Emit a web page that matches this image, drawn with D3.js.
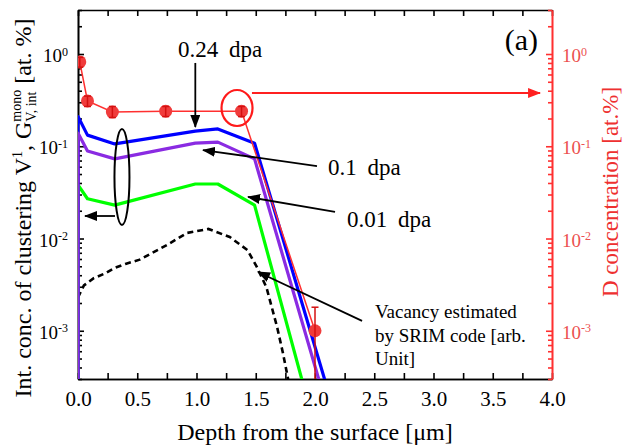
<!DOCTYPE html>
<meta charset="utf-8">
<script src="https://cdn.jsdelivr.net/npm/d3@7"></script>
<body style="margin:0">
<div id="my_dataviz"></div>
<script>
    // simulated interstitial cluster concentration (left axis)
    const simDepth = [0, 0, 0.08, 0.31, 0.99, 1.18, 1.49, 2.2];
    const conc024 = [1e-5, 0.21, 0.132, 0.106, 0.146, 0.154, 0.108, 9.1e-5];
    const conc01 = [1e-5, 0.139, 0.089, 0.073, 0.108, 0.111, 0.073, 5.4e-5];
    const conc001 = [1e-5, 0.038, 0.027, 0.023, 0.039, 0.039, 0.023, 1.0e-5];

    // SRIM vacancy profile [arb. unit]
    const srimDepth = [0, 0.05, 0.13, 0.23, 0.31, 0.4, 0.52, 0.75, 0.92, 1.1, 1.28, 1.43, 1.51, 1.59, 1.68, 1.73, 1.8];
    const srimConc = [2.3e-3, 3.1e-3, 3.7e-3, 4.2e-3, 4.8e-3, 5.3e-3, 5.9e-3, 8.5e-3, 0.0115, 0.0127, 0.0104, 7.5e-3, 4.9e-3, 2.96e-3, 1.1e-3, 5.7e-4, 2.0e-4];

    // measured D concentration (right axis)
    const dDepth = [0.015, 0.08, 0.29, 0.74, 1.38, 2.0];
    const dConc = [0.82, 0.31, 0.235, 0.24, 0.24, 1.0e-3];
    const dErrLow = [0.72, 0.27, 0.205, 0.21, 0.21, 1e-5];
    const dErrHigh = [0.92, 0.35, 0.27, 0.27, 0.27, 1.8e-3];

    const xTicks = [0, 0.5, 1, 1.5, 2, 2.5, 3, 3.5, 4];
    const yTicks = [1e-3, 1e-2, 1e-1, 1];
    const yExp = ["-3", "-2", "-1", "0"];

    const serif = "Liberation Serif";

    let margin = {top: 10, right: 71, bottom: 67, left: 78},
        width = 623 - margin.left - margin.right,
        height = 446 - margin.top - margin.bottom;

    let svg = d3.select("#my_dataviz").append("svg")
        .attr("width", 623)
        .attr("height", 446)
        .style("display", "block");

    let defs = svg.append("defs");
    defs.append("clipPath").attr("id", "clip")
        .append("rect").attr("width", width).attr("height", height);
    const arrowHead = (id, color) => defs.append("marker")
        .attr("id", id)
        .attr("markerUnits", "userSpaceOnUse")
        .attr("markerWidth", 13).attr("markerHeight", 10)
        .attr("refX", 12).attr("refY", 5)
        .attr("orient", "auto")
        .append("path").attr("d", "M0,0 L13,5 L0,10 z").attr("fill", color);
    arrowHead("ahBlack", "#000");
    arrowHead("ahRed", "#ff2020");

    let g = svg.append("g")
        .attr("transform", `translate(${margin.left},${margin.top})`);

    let x = d3.scaleLinear().domain([0, 4]).range([0, width]);
    let y = d3.scaleLog().domain([3e-4, 3]).range([height, 0]);

    const red = "#ff3030";
    const redText = "#ec5050";

    // minor log ticks
    let minor = [];
    [1e-4, 1e-3, 1e-2, 1e-1, 1].forEach(d => {
        for (let k = 2; k <= 9; k++) {
            let v = d * k;
            if (v >= 3e-4 && v <= 3) minor.push(v);
        }
    });
    let xMinor = d3.range(0.25, 4, 0.5);

    // axes
    let xAxis = g.append("g").attr("transform", `translate(0,${height})`)
        .call(d3.axisBottom(x).tickValues(xTicks).tickFormat(d3.format(".1f"))
            .tickSize(-6).tickSizeOuter(0).tickPadding(12));
    g.append("g").attr("transform", `translate(0,${height})`)
        .call(d3.axisBottom(x).tickValues(xMinor).tickFormat("").tickSize(-6).tickSizeOuter(0));
    g.append("g")
        .call(d3.axisTop(x).tickValues(d3.range(0, 4.01, 0.25)).tickFormat("").tickSize(-6).tickSizeOuter(0));

    let yAxis = g.append("g")
        .call(d3.axisLeft(y).tickValues(yTicks).tickFormat("").tickSize(-6).tickSizeOuter(0).tickPadding(10));
    g.append("g")
        .call(d3.axisLeft(y).tickValues(minor).tickFormat("").tickSize(-4).tickSizeOuter(0));

    let yAxisR = g.append("g").attr("transform", `translate(${width},0)`)
        .call(d3.axisRight(y).tickValues(yTicks).tickFormat("").tickSize(-6).tickSizeOuter(0).tickPadding(10));
    let yAxisRm = g.append("g").attr("transform", `translate(${width},0)`)
        .call(d3.axisRight(y).tickValues(minor).tickFormat("").tickSize(-4).tickSizeOuter(0));

    g.selectAll(".domain, .tick line").attr("stroke", "#000").attr("stroke-width", 1.6);
    [yAxisR, yAxisRm].forEach(a => a.selectAll(".domain, .tick line").attr("stroke", red));

    xAxis.selectAll(".tick text")
        .attr("font-size", 21).attr("fill", "#000");

    // power-of-ten labels
    const powLabel = (axis, color) => {
        axis.selectAll(".tick text").each(function (d) {
            let t = d3.select(this)
                .attr("font-size", 19).attr("fill", color)
                .attr("dy", "0.4em");
            t.text(null);
            t.append("tspan").text("10");
            t.append("tspan").attr("dy", "-0.55em").attr("font-size", 12).text(yExp[yTicks.indexOf(d)]);
        });
    };
    powLabel(yAxis, "#000");
    powLabel(yAxisR, redText);

    // curves
    let plot = g.append("g").attr("clip-path", "url(#clip)");
    const lineOf = (xs, ys) => d3.line().x((d, i) => x(xs[i])).y(d => y(d))(ys);

    plot.append("path").attr("d", lineOf(srimDepth, srimConc))
        .attr("fill", "none").attr("stroke", "#000").attr("stroke-width", 2.6)
        .attr("stroke-dasharray", "6,4");

    [[conc001, "#00ff00"], [conc024, "#0000ff"], [conc01, "#8a2be2"]].forEach(([vals, col]) => {
        plot.append("path").attr("d", lineOf(simDepth, vals))
            .attr("fill", "none").attr("stroke", col).attr("stroke-width", 3.2)
            .attr("stroke-linejoin", "round");
    });

    plot.append("path").attr("d", lineOf(dDepth, dConc))
        .attr("fill", "none").attr("stroke", red).attr("stroke-width", 1.5);

    let pts = plot.selectAll(".dpt").data(dConc).enter().append("g");
    pts.append("circle")
        .attr("cx", (d, i) => x(dDepth[i])).attr("cy", d => y(d))
        .attr("r", 6.5).attr("fill", "#f03c3c");
    pts.append("line")
        .attr("x1", (d, i) => x(dDepth[i])).attr("x2", (d, i) => x(dDepth[i]))
        .attr("y1", (d, i) => y(dErrLow[i])).attr("y2", (d, i) => y(dErrHigh[i]))
        .attr("stroke", "#d41010").attr("stroke-width", 1.5);
    [dErrLow, dErrHigh].forEach(arr => {
        pts.append("line")
            .attr("x1", (d, i) => x(dDepth[i]) - 3.5).attr("x2", (d, i) => x(dDepth[i]) + 3.5)
            .attr("y1", (d, i) => y(arr[i])).attr("y2", (d, i) => y(arr[i]))
            .attr("stroke", "#d41010").attr("stroke-width", 1.5);
    });

    // annotations
    const arrow = (x0, y0, x1, y1, col, id) => g.append("line")
        .attr("x1", x(x0)).attr("y1", y(y0)).attr("x2", x(x1)).attr("y2", y(y1))
        .attr("stroke", col).attr("stroke-width", 1.8)
        .attr("marker-end", `url(#${id})`);
    const label = (x0, y0, txt, size) => g.append("text")
        .attr("x", x(x0)).attr("y", y(y0))
        .attr("font-size", size).attr("word-spacing", 5).text(txt);

    arrow(0.99, 0.8, 0.99, 0.162, "#000", "ahBlack");
    arrow(2.017, 0.061, 1.055, 0.091, "#000", "ahBlack");
    arrow(2.169, 0.0194, 1.435, 0.0282, "#000", "ahBlack");
    arrow(2.397, 1.28e-3, 1.519, 4.33e-3, "#000", "ahBlack");
    arrow(0.312, 0.01754, 0.059, 0.01754, "#000", "ahBlack");
    arrow(1.468, 0.378, 3.899, 0.378, "#ff2020", "ahRed");

    label(0.844, 0.928, "0.24 dpa", 23);
    label(2.11, 0.0488, "0.1 dpa", 23);
    label(2.27, 0.0133, "0.01 dpa", 23);
    ["Vacancy estimated", "by SRIM code [arb.", "Unit]"].forEach((s, i) => {
        label(2.506, [1.37e-3, 7.55e-4, 4.25e-4][i], s, 19).attr("word-spacing", 0);
    });
    label(3.882, 1.105, "(a)", 30).attr("text-anchor", "end");

    g.append("ellipse").attr("cx", x(1.342)).attr("cy", y(0.26))
        .attr("rx", 15.5).attr("ry", 18)
        .attr("fill", "none").attr("stroke", "#ff1a1a").attr("stroke-width", 2.2);
    g.append("ellipse").attr("cx", x(0.371)).attr("cy", y(0.0464))
        .attr("rx", 7.5).attr("ry", 48)
        .attr("fill", "none").attr("stroke", "#000").attr("stroke-width", 2);

    // axis titles
    svg.append("text")
        .attr("x", margin.left + width / 2).attr("y", 440)
        .attr("text-anchor", "middle").attr("font-size", 24)
        .text("Depth from the surface [\u03bcm]");

    let yl = svg.append("text")
        .attr("transform", "translate(31,208) rotate(-90)")
        .attr("text-anchor", "middle").attr("font-size", 24)
        .style("font-family", serif);
    yl.append("tspan").text("Int. conc. of clustering V");
    yl.append("tspan").attr("dy", -9).attr("font-size", 14).text("1");
    yl.append("tspan").attr("dy", 9).text(", G");
    let sup = yl.append("tspan").attr("dy", -10).attr("font-size", 14).text("mono");
    let supLen = sup.node().getComputedTextLength();
    let sub = yl.append("tspan").attr("dx", -supLen).attr("dy", 15).attr("font-size", 14).text("V, int");
    let subLen = sub.node().getComputedTextLength();
    yl.append("tspan").attr("dx", Math.max(0, supLen - subLen)).attr("dy", -5).text(" [at. %]");

    svg.append("text")
        .attr("transform", "translate(618,192) rotate(-90)")
        .attr("text-anchor", "middle").attr("font-size", 23)
        .attr("fill", "#ee3030")
        .text("D concentration [at.%]");

    svg.selectAll("text").style("font-family", serif);
</script>
</body>
